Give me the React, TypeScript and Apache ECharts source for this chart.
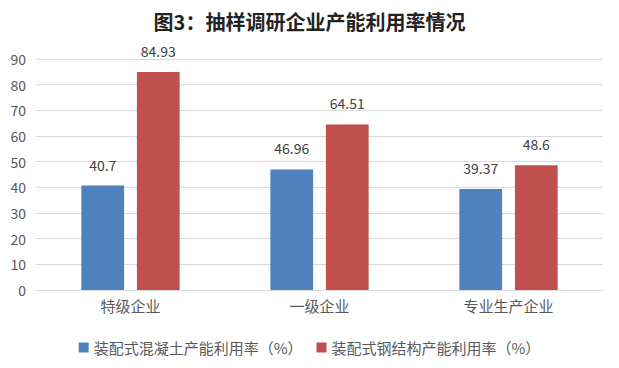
import React, { useEffect, useRef } from "react";
import * as echarts from "echarts";

const categories = ["特级企业", "一级企业", "专业生产企业"];
const concreteRate = [40.7, 46.96, 39.37];
const steelRate = [84.93, 64.51, 48.6];
const seriesNames = ["装配式混凝土产能利用率（%）", "装配式钢结构产能利用率（%）"];

const FONT = "'Noto Sans CJK SC', 'Microsoft YaHei', sans-serif";

export default function App() {
  const ref = useRef<HTMLDivElement>(null);
  useEffect(() => {
    if (!ref.current) return;
    const chart = echarts.init(ref.current, null, { renderer: "svg" });
    chart.setOption({
      animation: false,
      backgroundColor: "#ffffff",
      title: {
        text: "图3：抽样调研企业产能利用率情况",
        left: "center",
        top: 6,
        textStyle: { fontFamily: FONT, fontSize: 20, fontWeight: "bold", color: "#222" },
      },
      legend: {
        top: 335,
        left: "center",
        itemWidth: 10,
        itemHeight: 10,
        itemGap: 14,
        icon: "rect",
        textStyle: { fontFamily: FONT, fontSize: 15, color: "#595959" },
        data: seriesNames,
      },
      grid: { left: 36, right: 16, top: 59, bottom: 78, containLabel: false },
      xAxis: {
        type: "category",
        data: categories,
        axisTick: { show: false },
        axisLine: { lineStyle: { color: "#d9d9d9" } },
        axisLabel: { fontFamily: FONT, fontSize: 15, color: "#595959", margin: 8 },
      },
      yAxis: {
        type: "value",
        min: 0,
        max: 90,
        interval: 10,
        axisLine: { show: false },
        axisTick: { show: false },
        splitLine: { lineStyle: { color: "#d9d9d9" } },
        axisLabel: { fontFamily: FONT, fontSize: 14, color: "#595959", margin: 10 },
      },
      series: [
        {
          name: seriesNames[0],
          type: "bar",
          data: concreteRate,
          barGap: "30%",
          barCategoryGap: "48%",
          itemStyle: { color: "#4f81bd" },
          label: { show: true, position: "top", distance: 14, fontFamily: FONT, fontSize: 14, color: "#404040" },
        },
        {
          name: seriesNames[1],
          type: "bar",
          data: steelRate,
          barGap: "30%",
          barCategoryGap: "48%",
          itemStyle: { color: "#c0504d" },
          label: { show: true, position: "top", distance: 14, fontFamily: FONT, fontSize: 14, color: "#404040" },
        },
      ],
    });
    return () => chart.dispose();
  }, []);
  return (
    <div
      ref={ref}
      style={{ position: "absolute", left: 0, top: 0, width: 619, height: 368 }}
    />
  );
}
